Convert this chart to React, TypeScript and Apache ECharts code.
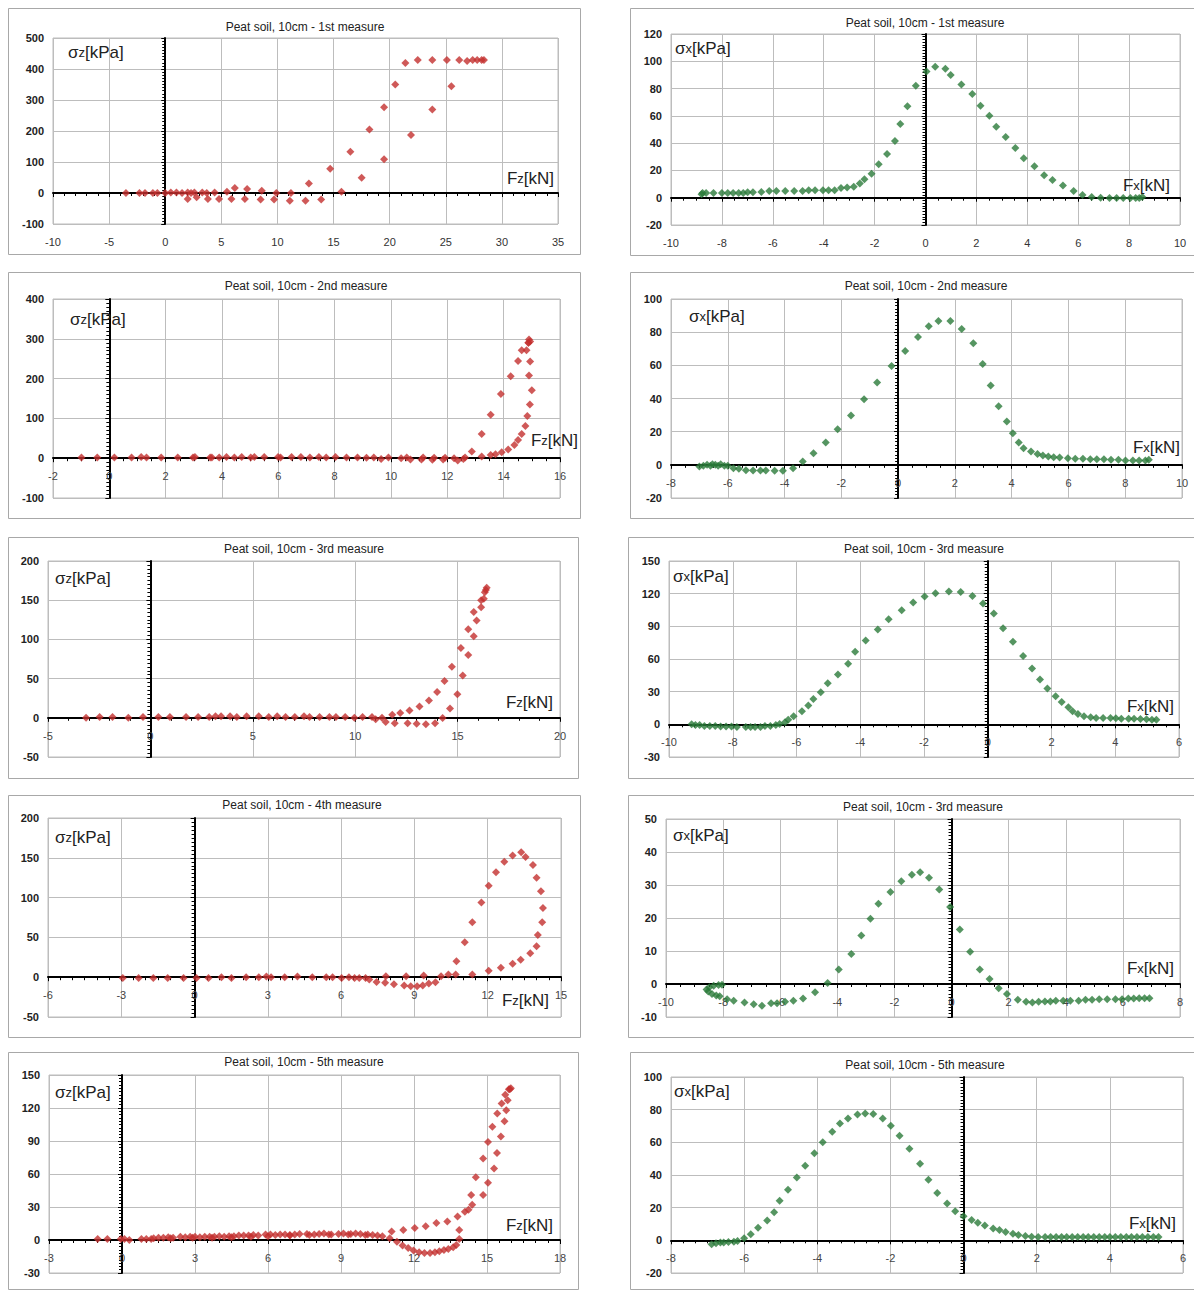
import React, { useEffect, useRef } from "react";
import * as echarts from "echarts";

// ---------- DATA ----------
// Panel 1: sigma_z vs F_z, 1st measure
const p1X = [-3.5,-2.3,-1.8,-1.1,-0.7,0,0.5,1.0,1.5,2.0,2.0,2.3,2.6,2.8,3.3,3.7,3.8,4.4,4.8,5.5,5.9,6.2,7.1,7.3,8.5,8.6,9.7,9.9,11.1,11.2,12.5,12.8,13.9,14.7,15.7,16.5,17.5,18.2,19.5,19.5,20.5,21.4,21.9,22.5,23.8,23.8,25.1,25.5,26.2,26.9,27.4,27.8,28.2,28.4];
const p1Y = [0,0,0,0,0,0,2,2,0,2,-19,0,2,-14,2,0,-19,2,-19,4,-19,16,-19,13,-21,7,-21,0,-25,0,-25,31,-21,78,4,133,49,205,277,109,350,419,187,429,429,269,429,344,429,426,429,429,429,429];
// Panel 2: sigma_x vs F_x, 1st measure
const p2X = [-8.8,-8.76,-8.62,-8.33,-8.0,-7.77,-7.56,-7.34,-7.16,-6.99,-6.78,-6.45,-6.14,-5.86,-5.51,-5.16,-4.83,-4.59,-4.34,-4.03,-3.81,-3.57,-3.32,-3.08,-2.82,-2.58,-2.40,-2.12,-1.84,-1.51,-1.20,-0.99,-0.71,-0.38,0.04,0.38,0.78,0.99,1.41,1.84,2.16,2.51,2.78,3.15,3.53,3.86,4.28,4.66,4.99,5.40,5.82,6.17,6.53,6.88,7.23,7.51,7.77,8.05,8.26,8.40,8.52];
const p2Y = [2.5,3.4,3.5,3.5,3.5,3.5,3.5,3.5,3.5,4,4,4.2,5,5,5,5,5,5.5,5.5,5.5,5.5,5.4,7.1,7.5,8,10.5,13.5,17.5,24.5,32,41.5,54,67,82,92.5,96,94.5,90,83,76,67.5,60,52,44.5,36.5,29,23,16.5,13,9,5,2,0.5,0,-0.3,-0.3,-0.3,-0.3,-0.3,-0.3,0.5];
// Panel 3: sigma_z vs F_z, 2nd measure
const p3X = [-0.99,-0.43,0.18,0.79,1.13,1.32,1.84,2.43,2.97,3.04,3.58,3.64,3.9,4.16,4.44,4.70,5.02,5.15,5.50,5.99,6.08,6.47,6.80,7.12,7.44,7.70,8.03,8.42,8.81,9.13,9.39,9.65,9.91,10.36,10.56,10.69,11.08,11.14,11.47,11.53,11.85,11.92,12.24,12.37,12.57,12.63,12.87,13.22,13.54,13.90,14.25,14.51,14.64,14.81,14.88,14.90,14.94,14.88,14.94,14.90,15.0,14.93,14.84,14.77,14.64,14.51,14.38,14.16,13.93,13.71,13.54,13.22];
const p3Y = [2,2,2,2,3,2,2,2,2,3,2,2,2,3,2,3,2,3,3,3,2,3,3,2,3,2,3,2,2,1,2,-2,2,0,2,-3,-3,2,-4,1,-3,1,0,-6,-2,2,17,61,109,161,206,244,271,271,290,298,293,290,243,208,171,135,106,81,61,46,33,22,15,10,8,4];
// Panel 4: sigma_x vs F_x, 2nd measure
const p4X = [-7.0,-6.86,-6.73,-6.61,-6.54,-6.44,-6.34,-6.25,-6.12,-6.0,-5.8,-5.61,-5.36,-5.11,-4.85,-4.66,-4.35,-4.06,-3.7,-3.36,-2.98,-2.55,-2.13,-1.66,-1.2,-0.74,-0.23,0.25,0.70,1.08,1.42,1.84,2.24,2.65,2.98,3.26,3.54,3.83,4.04,4.25,4.42,4.68,4.91,5.1,5.29,5.48,5.69,5.98,6.24,6.51,6.77,7.0,7.25,7.5,7.76,8.01,8.27,8.49,8.71,8.83];
const p4Y = [-1,-0.6,0,-0.6,0.4,0,-0.6,0.4,-0.6,-0.6,-2,-2.4,-3.2,-3.4,-3.4,-3.4,-3.6,-3.6,-2,2,7,13.5,21.5,29.7,39.6,49.6,59.6,68.7,77.1,83.5,86.7,86.7,81.9,73.3,60.8,47.8,35.3,26.1,19.1,13.5,10,8,6.6,5.6,5,4.6,4.4,4,3.6,3.6,3.4,3.4,3.4,3,3,2.6,2.6,2.6,2.6,3];
// Panel 5: sigma_z vs F_z, 3rd measure
const p5X = [-3.14,-2.48,-1.85,-1.08,-0.36,0.39,0.95,1.74,2.33,2.87,3.18,3.45,3.89,4.22,4.70,5.29,5.78,6.19,6.60,7.05,7.50,7.77,8.26,8.74,9.06,9.51,9.96,10.36,10.82,11.0,11.31,
  11.81,12.2,12.65,13.14,13.6,14.0,14.36,14.72,15.16,15.52,15.79,16.15,16.33,16.42,
  11.49,11.93,12.56,13.0,13.45,13.9,14.27,14.63,14.99,15.25,15.52,15.79,15.93,16.15,16.28,16.38];
const p5Y = [0,1,1,0,1,1,1,1,1,1,2,2,2,1,2,2,1,2,1,1,2,1,1,1,1,1,0,1,1,-2,0,
  3.8,6,9.4,14.5,22,33,47,65,89,113,135,150,160,166,
  -5.5,-6.8,-6.8,-7.7,-8.1,-6.8,-0.4,12,30,54,80,104,124,141,152,163];
// Panel 6: sigma_x vs F_x, 3rd measure
const p6X = [-9.29,-9.17,-9.04,-8.89,-8.72,-8.55,-8.38,-8.21,-8.04,-7.87,-7.59,-7.44,-7.30,-7.13,-6.99,-6.82,-6.65,-6.53,-6.36,-6.26,-6.09,-5.83,-5.63,-5.47,-5.24,-5.02,-4.70,-4.38,-4.16,-3.83,-3.45,-3.11,-2.70,-2.34,-1.98,-1.64,-1.22,-0.85,-0.48,-0.15,0.19,0.48,0.79,1.11,1.39,1.64,1.87,2.13,2.32,2.53,2.66,2.83,3.02,3.23,3.40,3.62,3.85,4.02,4.19,4.42,4.59,4.79,4.98,5.15,5.29];
const p6Y = [0,-0.6,-0.6,-1.5,-1.5,-1.5,-2.1,-2.1,-2.1,-2.5,-2.5,-2.5,-2.5,-2.5,-1.5,-1.5,-0.6,0.3,1.8,4.3,7.4,12,17.2,23.3,29.5,37.8,45.8,55.6,66.6,77.1,87.2,96.4,104.7,111.8,117.3,120.4,121.9,121.6,117.9,110.9,101.7,88.2,75.9,62.7,51.3,41.2,32.9,25.8,20.6,15.7,12,9.5,7.4,6.4,5.8,5.8,5.8,5.5,5.2,5.2,5.2,4.9,4.6,4.3,4.3];
// Panel 7: sigma_z vs F_z, 4th measure
const p7X = [-2.94,-2.29,-1.69,-1.10,-0.45,0.08,0.57,1.10,1.51,2.11,2.63,2.94,3.13,3.69,4.21,4.82,5.39,5.65,6.02,6.32,6.55,6.74,7.0,7.15,
  7.45,7.8,8.16,8.58,8.85,9.11,9.34,9.59,9.86,
  7.83,8.66,9.38,10.09,10.39,10.69,
  10.72,11.06,11.37,11.74,12.04,12.34,12.68,13.02,13.37,13.55,13.85,14.0,14.18,14.26,14.23,14.05,14.0,13.74,13.35,13.02,12.54,12.04,11.37];
const p7Y = [-1,-1,-1,-1,-1,-1,-1,0,-1,0,0,1,0,0,1,0,0,0,-1,0,-1,-1,-1,-3,
  -6,-7,-9,-10.5,-11.4,-11.4,-10.5,-8,-6.3,
  1.3,1.3,2.1,1.3,3.4,3.4,
  20,44,69,94,115,132,145,153,157,151,141,125,108,87,69,53,39,30,22,17,12,8,3.4];
// Panel 8: sigma_x vs F_x, "3rd measure" (4th row)
const p8X = [-8.58,-8.52,-8.39,-8.24,-8.12,-8.48,-8.33,-8.16,-8.04,-7.86,-7.63,-7.25,-6.93,-6.64,-6.32,-6.11,-5.83,-5.54,-5.2,-4.78,-4.34,-3.95,-3.51,-3.16,-2.84,-2.56,-2.14,-1.76,-1.39,-1.10,-0.79,-0.43,-0.05,0.29,0.65,0.99,1.33,1.65,1.94,2.32,2.61,2.83,3.05,3.27,3.46,3.65,3.91,4.16,4.45,4.69,4.92,5.17,5.45,5.74,5.97,6.19,6.38,6.57,6.76,6.93];
const p8Y = [-1.7,-2.3,-3,-3.5,-3.7,-1,-0.5,-0.3,-0.2,-4.6,-5.1,-5.6,-6.1,-6.6,-5.8,-5.8,-5.4,-5.1,-4.4,-2.5,0.3,4.4,9.1,14.7,19.8,24.3,27.9,31.1,33.1,33.9,32.2,28.6,23.3,16.5,9.8,4.4,1.5,-1.3,-3,-4.8,-5.4,-5.6,-5.4,-5.3,-5.3,-5.1,-5.1,-5.1,-5.1,-4.8,-4.8,-4.6,-4.6,-4.6,-4.6,-4.4,-4.4,-4.3,-4.3,-4.3];
// Panel 9: sigma_z vs F_z, 5th measure
const p9X = [-1.0,-0.6,-0.05,0.1,0.3,0.8,1.0,1.3,1.5,1.7,1.9,2.1,2.4,2.6,2.8,3.0,3.2,3.4,3.6,3.8,4.0,4.2,4.4,4.6,4.8,5.0,5.2,5.4,5.6,5.9,6.1,6.3,6.5,6.7,6.9,7.1,7.3,7.6,7.9,8.1,8.3,8.6,8.9,9.1,9.4,9.6,9.8,10.1,10.3,10.5,10.7,
  1.2,2.0,2.9,3.7,4.5,5.3,6.0,6.9,7.7,8.5,9.3,10.0,
  11.08,11.56,12.03,12.48,12.92,13.37,13.79,14.09,14.24,14.35,14.54,14.84,15.04,15.22,15.42,15.6,15.75,15.9,15.98,
  13.86,14.39,14.84,15.04,15.29,15.41,15.57,15.72,15.79,15.85,15.94,
  11.0,11.3,11.53,11.76,11.98,12.21,12.43,12.66,12.86,13.04,13.23,13.41,13.61,13.74,13.86];
const p9Y = [1,1,1,1,0,1,1,1.5,2,2,2.5,2,3,2.5,3,3,2.5,3,3,3,3.5,3,3.5,3.5,4,4,4,4.5,4,5,5,4.5,5,5,4.5,5,5.5,5.5,5,5.5,6,5,5.5,6,5.5,6,5.5,5,4.5,4,3.5,
  1,1.5,2,2,2.5,3,3.5,4,4.5,5,5,4.5,
  7.8,9,10.9,12.4,15.4,16.9,21.4,25.6,27.4,41,57,74,89,103,115,124,132,137,138,
  9,32,41,52,65,79,94,108,118,127,137,
  1.5,-1.5,-5,-7.2,-9.6,-11.2,-11.8,-11.8,-11.2,-10.2,-9,-8.1,-6.6,-4.5,1];
// Panel 10: sigma_x vs F_x, 5th measure
const p10X = [-6.89,-6.77,-6.65,-6.56,-6.43,-6.28,-6.18,-6.0,-5.82,-5.62,-5.37,-5.18,-5.03,-4.8,-4.56,-4.33,-4.08,-3.85,-3.59,-3.38,-3.16,-2.90,-2.69,-2.47,-2.21,-1.99,-1.75,-1.48,-1.19,-0.96,-0.72,-0.45,-0.23,0,0.22,0.39,0.58,0.81,0.98,1.15,1.35,1.5,1.69,1.86,2.04,2.23,2.38,2.53,2.68,2.82,2.97,3.12,3.27,3.41,3.56,3.71,3.86,4.0,4.15,4.3,4.45,4.59,4.74,4.89,5.04,5.19,5.33];
const p10Y = [-2.4,-1.8,-1.4,-1.4,-1,-0.8,-0.4,1.2,3.7,7.7,12.2,17.2,24.3,31,38.5,45.6,53.3,60,66.5,71.6,74.6,77.1,77.7,77.3,74.6,70.2,64.1,56,46.9,37.1,29,22.5,17.8,14.8,12.4,10.8,9.1,7.3,6.3,5.1,4.1,3.2,2.6,2.2,2,2,2,2,2,2,2,2,2,2,2,2,2,2,2,2,2,2,2,2,2,2,2];

const titles = [
  "Peat soil, 10cm - 1st measure", "Peat soil, 10cm - 1st measure",
  "Peat soil, 10cm - 2nd measure", "Peat soil, 10cm - 2nd measure",
  "Peat soil, 10cm - 3rd measure", "Peat soil, 10cm - 3rd measure",
  "Peat soil, 10cm - 4th measure", "Peat soil, 10cm - 3rd measure",
  "Peat soil, 10cm - 5th measure", "Peat soil, 10cm - 5th measure",
];
const xMin = [-10, -10, -2, -8, -5, -10, -6, -10, -3, -8];
const xMax = [35, 10, 16, 10, 20, 6, 15, 8, 18, 6];
const xStep = [5, 2, 2, 2, 5, 2, 3, 2, 3, 2];
const yMin = [-100, -20, -100, -20, -50, -30, -50, -10, -30, -20];
const yMax = [500, 120, 400, 100, 200, 150, 200, 50, 150, 100];
const yStep = [100, 20, 100, 20, 50, 30, 50, 10, 30, 20];

const dataX = [p1X, p2X, p3X, p4X, p5X, p6X, p7X, p8X, p9X, p10X];
const dataY = [p1Y, p2Y, p3Y, p4Y, p5Y, p6Y, p7Y, p8Y, p9Y, p10Y];

// ---------- LAYOUT / STYLE ----------
const FONT = '"Liberation Sans", Arial, sans-serif';
const RED = "#C3302E";
const GREEN = "#2A7A3A";
const GRID_LINE = "#bdbdbd";
const BOX_LINE = "#a8a8a8";

const gridBoxes = [
  [53, 38, 505, 186], [671, 34, 509, 191],
  [53, 299, 507, 199], [671, 299, 511, 199],
  [48, 561, 512, 196], [669, 561, 510, 196],
  [48, 818, 513, 199], [666, 819, 514, 198],
  [49, 1075, 511, 198], [671, 1077, 512, 196],
];
const panelBoxes = [
  [8, 8, 572, 246], [630, 8, 570, 247],
  [8, 272, 572, 246], [630, 272, 570, 246],
  [8, 537, 570, 241], [628, 537, 572, 241],
  [8, 795, 572, 242], [628, 795, 572, 242],
  [8, 1052, 570, 237], [630, 1052, 570, 237],
];
const titlePos = [[305, 27], [925, 23], [306, 286], [926, 286], [304, 549], [924, 549], [302, 805], [923, 807], [304, 1062], [925, 1065]];
const yNamePos = [[68, 52], [675, 48], [70, 319], [689, 316], [55, 578], [673, 576], [55, 837], [673, 835], [55, 1092], [674, 1091]];
const xNamePos = [[554, 178], [1170, 185], [578, 440], [1180, 447], [553, 702], [1174, 706], [549, 1000], [1174, 968], [553, 1225], [1176, 1223]];
const xMinorSplit = [5, 4, 4, 4, 5, 5, 6, 4, 6, 6];

function buildOption() {
  const grids: any[] = [];
  const xAxes: any[] = [];
  const yAxes: any[] = [];
  const series: any[] = [];
  const elements: any[] = [];

  for (let i = 0; i < 10; i++) {
    const [l, t, w, h] = gridBoxes[i];
    grids.push({ left: l, top: t, width: w, height: h, show: true, borderColor: GRID_LINE, borderWidth: 1, backgroundColor: "transparent" });
    const labelsAtBottom = i < 2;
    // distance (px) from the zero line to the bottom of the plot
    const zeroToBottom = (h * -yMin[i]) / (yMax[i] - yMin[i]);
    const xBase = { type: "value", gridIndex: i, min: xMin[i], max: xMax[i], interval: xStep[i] };
    const yBase = { type: "value", gridIndex: i, min: yMin[i], max: yMax[i], interval: yStep[i] };
    // main x: grid lines + tick labels (at bottom for top row, next to the zero line otherwise)
    xAxes.push({
      ...xBase, position: "bottom",
      axisLine: { show: false, onZero: false },
      axisTick: { show: false },
      splitLine: { show: true, lineStyle: { color: GRID_LINE, width: 1 } },
      axisLabel: {
        show: true, fontSize: 11, color: labelsAtBottom ? "#333" : "#444", fontFamily: FONT,
        margin: labelsAtBottom ? 12 : 12.5 - zeroToBottom,
      },
    });
    // secondary x: thick zero line with ticks
    xAxes.push({
      ...xBase, position: "bottom",
      axisLine: { show: true, onZero: true, onZeroAxisIndex: 2 * i, lineStyle: { color: "#000", width: 2 } },
      axisTick: { show: true, length: 4, lineStyle: { color: "#000", width: 1 } },
      minorTick: { show: true, splitNumber: xMinorSplit[i], length: 3, lineStyle: { color: "#000", width: 1 } },
      splitLine: { show: false },
      axisLabel: { show: false },
    });
    // main y: labels at left + grid lines
    yAxes.push({
      ...yBase, position: "left",
      axisLine: { show: false, onZero: false },
      axisTick: { show: false },
      splitLine: { show: true, lineStyle: { color: GRID_LINE, width: 1 } },
      axisLabel: { show: true, fontSize: 11, fontWeight: "bold", color: "#222", margin: 9, fontFamily: FONT },
    });
    // secondary y: thick zero line with ticks
    yAxes.push({
      ...yBase, position: "left",
      axisLine: { show: true, onZero: true, onZeroAxisIndex: 2 * i, lineStyle: { color: "#000", width: 2 } },
      axisTick: { show: true, length: 4, lineStyle: { color: "#000", width: 1 } },
      minorTick: { show: true, splitNumber: 10, length: 3, lineStyle: { color: "#000", width: 1 } },
      splitLine: { show: false },
      axisLabel: { show: false },
    });

    const xs = dataX[i];
    const ys = dataY[i];
    series.push({
      type: "scatter",
      xAxisIndex: 2 * i,
      yAxisIndex: 2 * i,
      symbol: "diamond",
      symbolSize: 8,
      silent: true,
      itemStyle: { color: i % 2 === 0 ? RED : GREEN },
      data: xs.map((v, k) => [v, ys[k]]),
    });

    const [bx, by, bw, bh] = panelBoxes[i];
    elements.push({
      type: "rect", silent: true, z: 0,
      shape: { x: bx + 0.5, y: by + 0.5, width: bw, height: bh },
      style: { fill: "none", stroke: BOX_LINE, lineWidth: 1 },
    });
    elements.push({
      type: "text", silent: true, x: titlePos[i][0], y: titlePos[i][1],
      style: {
        text: titles[i], fontSize: 12, fontFamily: FONT, fill: "#222",
        textAlign: "center", align: "center", textVerticalAlign: "middle", verticalAlign: "middle",
      },
    });
    const sub = i % 2 === 0 ? "z" : "x";
    elements.push({
      type: "text", silent: true, x: yNamePos[i][0], y: yNamePos[i][1], z: 10,
      style: {
        text: "{m|σ}{s|" + sub + "}{m|[kPa]}", fill: "#222", fontSize: 17, fontFamily: FONT,
        textAlign: "left", align: "left", textVerticalAlign: "middle", verticalAlign: "middle",
        rich: { m: { fontSize: 17, fontFamily: FONT }, s: { fontSize: 13, fontFamily: FONT } },
      },
    });
    elements.push({
      type: "text", silent: true, x: xNamePos[i][0], y: xNamePos[i][1], z: 10,
      style: {
        text: "{m|F}{s|" + sub + "}{m|[kN]}", fill: "#222", fontSize: 17, fontFamily: FONT,
        textAlign: "right", align: "right", textVerticalAlign: "middle", verticalAlign: "middle",
        rich: { m: { fontSize: 17, fontFamily: FONT }, s: { fontSize: 13, fontFamily: FONT } },
      },
    });
  }

  return {
    animation: false,
    backgroundColor: "#ffffff",
    textStyle: { fontFamily: FONT },
    grid: grids,
    xAxis: xAxes,
    yAxis: yAxes,
    series,
    graphic: { elements },
  };
}

export default function App() {
  const ref = useRef<HTMLDivElement>(null);
  useEffect(() => {
    document.body.style.margin = "0";
    if (!ref.current) return;
    const chart = echarts.init(ref.current, null, { renderer: "svg" });
    chart.setOption(buildOption() as any);
    return () => chart.dispose();
  }, []);
  return <div ref={ref} style={{ width: 1194, height: 1290 }} />;
}
